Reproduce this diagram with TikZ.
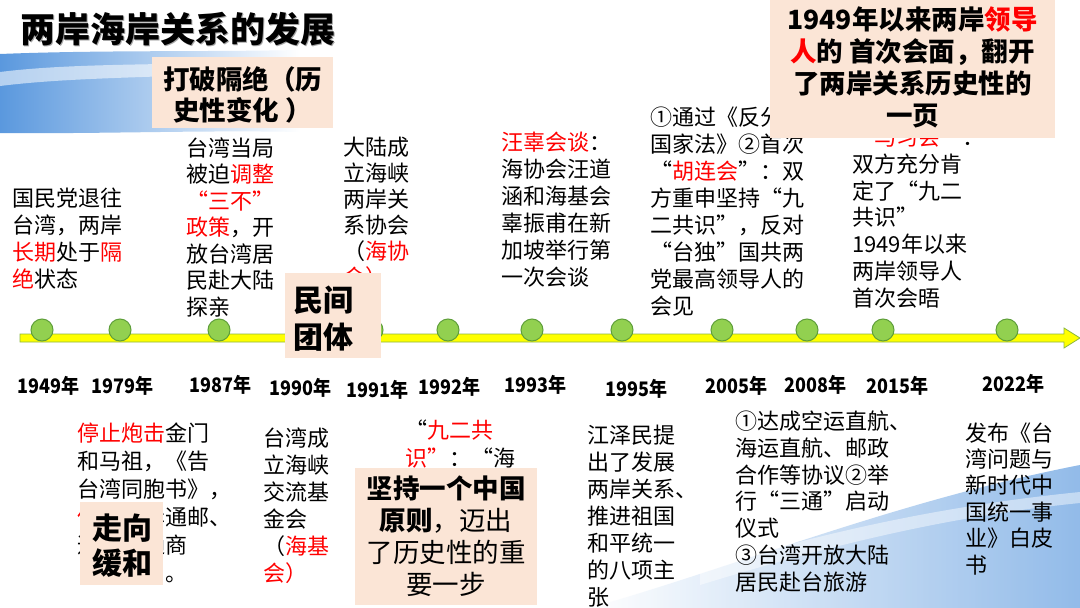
\documentclass[tikz,border=0pt]{standalone}
\usepackage{fontspec}
\setmainfont{Noto Sans CJK SC}
\usepackage{graphicx}
\definecolor{myred}{HTML}{FF0000}
\definecolor{peach}{HTML}{FBE5D6}
\definecolor{dotgreen}{HTML}{92D050}
\definecolor{dotline}{HTML}{5E9E3A}
\definecolor{baryellow}{HTML}{FFFF00}
\definecolor{barline}{HTML}{8DB83F}
\definecolor{skyblue}{HTML}{3D86D8}
\newcommand{\rd}[1]{\textcolor{myred}{#1}}
\newcommand{\myoq}{\makebox[1em][r]{“}}
\newcommand{\mycq}{\makebox[1em][l]{”}}
\begin{document}
\begin{tikzpicture}[x=1pt,y=-1pt,
  body/.style={anchor=base west, inner sep=0pt, align=left},
  boxtext/.style={inner sep=0pt, font=\bfseries},
  pbox/.style={fill=peach, draw=none},
  dot/.style={circle, minimum size=22pt, inner sep=0pt, fill=dotgreen, draw=dotline, line width=1pt},
  year/.style={anchor=base west, inner sep=0pt, font=\fontsize{20}{24}\selectfont\bfseries}
]
\useasboundingbox (0,0) rectangle (1080,608);
\fill[white] (0,0) rectangle (1080,608);

% background swooshes
\shade[left color=skyblue!85, right color=white] (0,54) .. controls (100,50) and (200,52) .. (300,50) -- (300,132) .. controls (200,130) and (100,134) .. (0,133) -- cycle;
\fill[white, opacity=0.55] (0,72) .. controls (80,62) and (180,66) .. (300,60) -- (300,70) .. controls (180,78) and (80,76) .. (0,86) -- cycle;
\shade[left color=white, right color=skyblue!70, opacity=0.8] (590,608) .. controls (740,565) and (900,500) .. (1080,465) -- (1080,608) -- cycle;
\fill[white, opacity=0.45] (700,570) .. controls (830,530) and (950,505) .. (1080,492) -- (1080,503) .. controls (950,516) and (830,545) .. (700,585) -- cycle;

% title
\node[anchor=base west, inner sep=0pt, font=\fontsize{35}{40}\selectfont\bfseries, text=black!35] (titleshadow) at (21.5,43.5) {两岸海岸关系的发展};
\node[anchor=base west, inner sep=0pt, font=\fontsize{35}{40}\selectfont\bfseries] (title) at (20,42) {两岸海岸关系的发展};

% upper texts (anchor = baseline of last line)
\node[body, font=\fontsize{22}{27}\selectfont] (t1949) at (12,287) {国民党退往\\台湾，两岸\\\rd{长期}处于\rd{隔}\\\rd{绝}状态};
\node[body, font=\fontsize{22}{26.5}\selectfont] (t1987) at (186,315) {台湾当局\\被迫\rd{调整}\\\rd{\myoq 三不\mycq}\\\rd{政策}，开\\放台湾居\\民赴大陆\\探亲};
\node[body, font=\fontsize{22}{26}\selectfont] (t1991) at (343,285) {大陆成\\立海峡\\两岸关\\系协会\\（\rd{海协}\\\rd{会）}};
\node[body, font=\fontsize{22}{27}\selectfont] (t1993) at (501,285) {\rd{汪辜会谈}：\\海协会汪道\\涵和海基会\\辜振甫在新\\加坡举行第\\一次会谈};
\node[body, font=\fontsize{22}{27}\selectfont] (t2005) at (650,314) {①通过《反分裂\\国家法》②首次\\\myoq\rd{胡连会}\mycq：双\\方重申坚持\myoq 九\\二共识\mycq，反对\\\myoq 台独\mycq 国共两\\党最高领导人的\\会见};
\node[body, font=\fontsize{22}{26.7}\selectfont] (t2015) at (852,306) {\myoq\rd{马习会}\mycq：\\双方充分肯\\定了\myoq 九二\\共识\mycq\\1949年以来\\两岸领导人\\首次会晤};

% lower texts
\node[body, font=\fontsize{22}{28}\selectfont] (b1979) at (77,581) {\rd{停止炮击}金门\\和马祖，《告\\台湾同胞书》，\\\rd{倡导}两岸通邮、\\通航、通商\\\hspace*{4em}。};
\node[body, font=\fontsize{22}{27}\selectfont] (b1990) at (263,581) {台湾成\\立海峡\\交流基\\金会\\（\rd{海基}\\\rd{会）}};
\node[body, font=\fontsize{22}{28}\selectfont] (b1992) at (405,466) {\myoq\rd{九二共}\\\rd{识\mycq}：\myoq 海};
\node[body, font=\fontsize{22}{27}\selectfont] (b1995) at (587,605) {江泽民提\\出了发展\\两岸关系、\\推进祖国\\和平统一\\的八项主\\张};
\node[body, font=\fontsize{22}{26.7}\selectfont] (b2005) at (735,590) {①达成空运直航、\\海运直航、邮政\\合作等协议②举\\行\myoq 三通\mycq 启动\\仪式\\③台湾开放大陆\\居民赴台旅游};
\node[body, font=\fontsize{22}{26.4}\selectfont] (b2022) at (965,573) {发布《台\\湾问题与\\新时代中\\国统一事\\业》白皮\\书};

% timeline bar with arrow head
\coordinate (barstart) at (20,338);
\coordinate (barend) at (1080,338);
\filldraw[fill=baryellow, draw=barline, line width=0.8pt] (barstart) ++(0,-4) -- (1064,334) -- (1064,328) -- (barend) -- (1064,348) -- (1064,342) -- (20,342) -- cycle;

% dots
\foreach \nm/\xx in {1949/42,1979/120,1987/219,1990/372,1991/448,1993/532,1995/622,2005/722,2008/807,2015/883,2022/1007}{
  \node[dot] (c\nm) at (\xx,330) {};
}

% years
\node[year] (y1949) at (17,393) {\scalebox{0.9}[1]{1949年}};
\node[year] (y1979) at (91,393) {\scalebox{0.9}[1]{1979年}};
\node[year] (y1987) at (189,392) {\scalebox{0.9}[1]{1987年}};
\node[year] (y1990) at (269,395) {\scalebox{0.9}[1]{1990年}};
\node[year] (y1991) at (346,397) {\scalebox{0.9}[1]{1991年}};
\node[year] (y1992) at (418,394) {\scalebox{0.9}[1]{1992年}};
\node[year] (y1993) at (504,392) {\scalebox{0.9}[1]{1993年}};
\node[year] (y1995) at (605,396) {\scalebox{0.9}[1]{1995年}};
\node[year] (y2005) at (705,393) {\scalebox{0.9}[1]{2005年}};
\node[year] (y2008) at (784,392) {\scalebox{0.9}[1]{2008年}};
\node[year] (y2015) at (866,393) {\scalebox{0.9}[1]{2015年}};
\node[year] (y2022) at (982,391) {\scalebox{0.9}[1]{2022年}};

% peach boxes
\fill[pbox] (152,57) rectangle (333,128);
\node[boxtext, anchor=base, align=center, font=\fontsize{26.5}{31}\selectfont\bfseries] (k1) at (242.5,120) {打破隔绝（历\\史性变化 ）};

\fill[pbox] (770,0) rectangle (1055,138);
\node[boxtext, anchor=base, align=center, font=\fontsize{26.5}{31.7}\selectfont\bfseries] (k2) at (912.5,125) {1949年以来两岸\rd{领导}\\\rd{人}的 首次会面，翻开\\了两岸关系历史性的\\一页};

\fill[pbox] (285,273) rectangle (381,358);
\node[boxtext, anchor=base west, align=left, font=\fontsize{30}{37}\selectfont\bfseries] (k3) at (293,348) {民间\\团体};

\fill[pbox] (80,502) rectangle (163,585);
\node[boxtext, anchor=base west, align=left, font=\fontsize{30}{35}\selectfont\bfseries] (k4) at (92,574) {走向\\缓和};

\fill[pbox] (355,468) rectangle (537,605);
\node[inner sep=0pt, anchor=base, align=center, font=\fontsize{26.5}{32}\selectfont] (k5) at (446,594) {\textbf{坚持一个中国}\\\textbf{原则}，迈出\\了历史性的重\\要一步};
\end{tikzpicture}
\end{document}
